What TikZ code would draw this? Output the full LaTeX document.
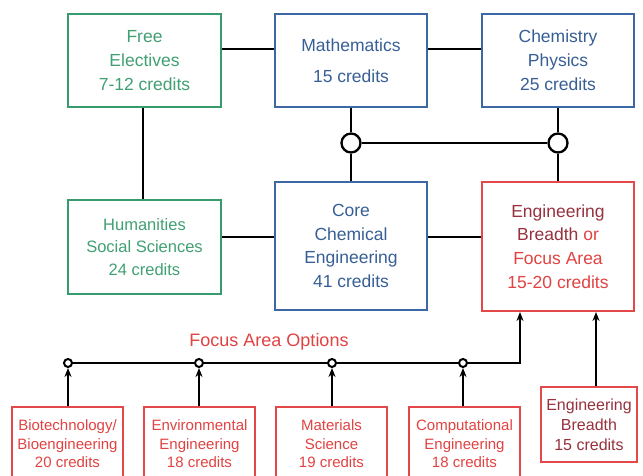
\documentclass[tikz,border=0pt]{standalone}
\usepackage{fontspec}
\setmainfont{Liberation Sans}
\usetikzlibrary{arrows.meta,calc}
\definecolor{grnb}{RGB}{55,155,110}
\definecolor{grnt}{RGB}{65,160,115}
\definecolor{blub}{RGB}{60,105,165}
\definecolor{blut}{RGB}{55,95,150}
\definecolor{redb}{RGB}{228,72,72}
\definecolor{redt}{RGB}{226,66,66}
\definecolor{dredt}{RGB}{150,50,62}
\begin{document}
\begin{tikzpicture}[x=1pt,y=-1pt,
  box/.style={draw, line width=2pt, align=center, inner sep=0pt, fill=white},
  gbox/.style={box, draw=grnb, text=grnt},
  bbox/.style={box, draw=blub, text=blut},
  rbox/.style={box, draw=redb, text=redt},
  big/.style={font=\fontsize{17.5}{24}\selectfont},
  conn/.style={line width=2.8pt, black},
  hub/.style={circle, draw=black, fill=white, line width=2.3pt, minimum size=19pt, inner sep=0pt},
  dot/.style={circle, draw=black, fill=white, line width=2pt, minimum size=8pt, inner sep=0pt},
  arr/.style={conn, -{Stealth[length=9pt,width=7pt]}},
  optbox/.style={rbox, line width=1.6pt, minimum width=111pt, minimum height=74pt, font=\fontsize{15}{18.5}\selectfont}]
\clip (0,0) rectangle (643,476);
\fill[white] (0,0) rectangle (643,476);

% top row
\node[gbox, big, minimum width=153pt, minimum height=93pt] (fe) at (144.5,60.5) {Free\\Electives\\7-12 credits};
\node[bbox, big, minimum width=152pt, minimum height=93pt] (math) at (351,60.5) {Mathematics\\[7pt]15 credits};
\node[bbox, big, minimum width=152pt, minimum height=93pt] (chem) at (558,60.5) {Chemistry\\Physics\\25 credits};

% middle row
\node[gbox, font=\fontsize{16.5}{22.5}\selectfont, minimum width=153pt, minimum height=94pt] (hum) at (144.5,247) {Humanities\\Social Sciences\\24 credits};
\node[bbox, font=\fontsize{17.5}{23.7}\selectfont, minimum width=152pt, minimum height=128pt] (core) at (351,246) {Core\\Chemical\\Engineering\\41 credits};
\node[rbox, font=\fontsize{17.5}{23.7}\selectfont, minimum width=152pt, minimum height=129pt] (eb) at (558,246.5) {\textcolor{dredt}{Engineering}\\\textcolor{dredt}{Breadth} or\\Focus Area\\15-20 credits};

% hubs
\node[hub] (cm) at (351,143) {};
\node[hub] (cc) at (558,143) {};

% connectors top
\draw[conn] ([yshift=11.5pt]fe.east) -- ([yshift=11.5pt]math.west);
\draw[conn] ([yshift=11.5pt]math.east) -- ([yshift=11.5pt]chem.west);
\draw[conn] ([xshift=-1.5pt]fe.south) -- ([xshift=-1.5pt]hum.north);
\draw[conn] ([yshift=10pt]hum.east) -- ([yshift=10pt]hum.east -| core.west);
\draw[conn] ([yshift=9pt]core.east) -- ([yshift=9pt]core.east -| eb.west);
\draw[conn] (math) -- (cm) -- (core);
\draw[conn] (chem) -- (cc) -- (eb);
\draw[conn] (cm) -- (cc);

% focus area options
\node[text=redt, font=\fontsize{18}{22}\selectfont] (fao) at (269,342) {Focus Area Options};
\node[dot] (d1) at (68,363) {};
\node[dot] (d2) at (199,363) {};
\node[dot] (d3) at (332,363) {};
\node[dot] (d4) at (463,363) {};
\coordinate (fc) at (520,363);

\node[optbox] (b1) at (67.5,444) {Biotechnology/\\Bioengineering\\20 credits};
\node[optbox] (b2) at (199.5,444) {Environmental\\Engineering\\18 credits};
\node[optbox] (b3) at (331.5,444) {Materials\\Science\\19 credits};
\node[optbox] (b4) at (464.5,444) {Computational\\Engineering\\18 credits};
\node[rbox, line width=1.6pt, text=dredt, minimum width=96pt, minimum height=75pt, font=\fontsize{16}{20}\selectfont] (eb15) at (589,424.5) {Engineering\\Breadth\\15 credits};

\draw[conn] (d1) -- (d2);
\draw[conn] (d2) -- (d3);
\draw[conn] (d3) -- (d4);
\draw[arr] (d4) -- (fc) -- (fc |- eb.south);
\draw[arr] (b1.north -| d1) -- (d1);
\draw[arr] (b2.north -| d2) -- (d2);
\draw[arr] (b3.north -| d3) -- (d3);
\draw[arr] (b4.north -| d4) -- (d4);
\draw[arr] ([xshift=7pt]eb15.north) -- ([xshift=7pt]eb15.north |- eb.south);
\end{tikzpicture}
\end{document}
